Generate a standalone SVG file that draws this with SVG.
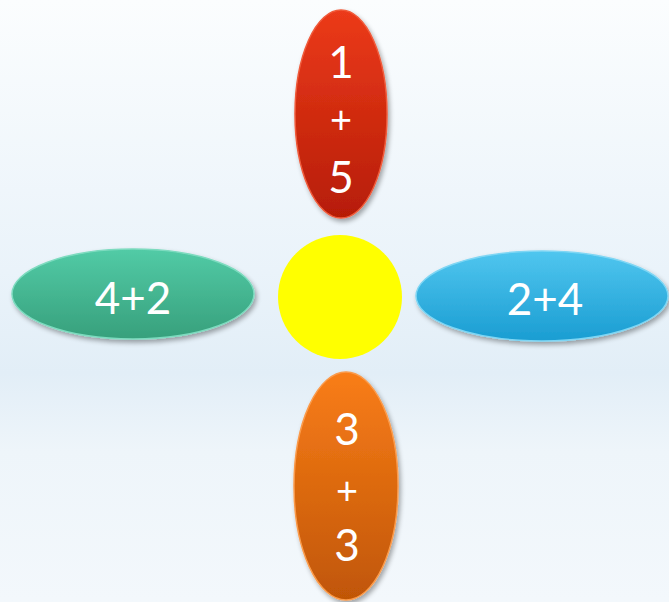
<svg xmlns="http://www.w3.org/2000/svg" width="669" height="602" viewBox="0 0 669 602">
<defs>
<linearGradient id="bg" x1="0" y1="0" x2="0" y2="1">
<stop offset="0" stop-color="#fbfdfe"/>
<stop offset="0.45" stop-color="#eaf3fa"/>
<stop offset="0.62" stop-color="#e2eef7"/>
<stop offset="0.75" stop-color="#eef5fa"/>
<stop offset="1" stop-color="#f3f8fc"/>
</linearGradient>
<linearGradient id="gRed" x1="0" y1="0" x2="0" y2="1">
<stop offset="0" stop-color="#ec3a1a"/>
<stop offset="1" stop-color="#b61d06"/>
</linearGradient>
<linearGradient id="gGreen" x1="0" y1="0" x2="0" y2="1">
<stop offset="0" stop-color="#52cba6"/>
<stop offset="1" stop-color="#37a07c"/>
</linearGradient>
<linearGradient id="gBlue" x1="0" y1="0" x2="0" y2="1">
<stop offset="0" stop-color="#50c6ef"/>
<stop offset="1" stop-color="#1a9dd2"/>
</linearGradient>
<linearGradient id="gOrange" x1="0" y1="0" x2="0" y2="1">
<stop offset="0" stop-color="#f97d18"/>
<stop offset="1" stop-color="#c05606"/>
</linearGradient>
<filter id="sh" x="-20%" y="-20%" width="140%" height="140%">
<feGaussianBlur in="SourceAlpha" stdDeviation="2.5"/>
<feOffset dx="2" dy="3" result="b"/>
<feComponentTransfer><feFuncA type="linear" slope="0.35"/></feComponentTransfer>
<feMerge><feMergeNode/><feMergeNode in="SourceGraphic"/></feMerge>
</filter>
</defs>
<style>
.t{font-family:"Lato","Open Sans","Liberation Sans",sans-serif;fill:#ffffff;text-anchor:middle;}
.big{font-size:44px;}
.plus{font-size:38px;}
</style>
<rect width="669" height="602" fill="url(#bg)"/>
<g id="connectors"></g>
<g id="center">
<circle cx="340" cy="297" r="62" fill="#ffff00"/>
</g>
<g id="top">
<ellipse cx="341" cy="114" rx="46" ry="104" fill="url(#gRed)" stroke="#f05a3a" stroke-width="1.5" filter="url(#sh)"/>
<text class="t big" x="341" y="78">1</text>
<text class="t plus" x="341" y="133">+</text>
<text class="t big" x="341" y="193">5</text>
</g>
<g id="left">
<ellipse cx="133" cy="294" rx="121" ry="45" fill="url(#gGreen)" stroke="#7ddbbf" stroke-width="1.5" filter="url(#sh)"/>
<text class="t big" x="133" y="314">4+2</text>
</g>
<g id="right">
<ellipse cx="542" cy="296" rx="126" ry="45" fill="url(#gBlue)" stroke="#7fd6f4" stroke-width="1.5" filter="url(#sh)"/>
<text class="t big" x="545" y="315">2+4</text>
</g>
<g id="bottom">
<ellipse cx="346" cy="486" rx="52" ry="114" fill="url(#gOrange)" stroke="#fb9a4a" stroke-width="1.5" filter="url(#sh)"/>
<text class="t big" x="347" y="445">3</text>
<text class="t plus" x="347" y="504">+</text>
<text class="t big" x="347" y="561">3</text>
</g>
</svg>
